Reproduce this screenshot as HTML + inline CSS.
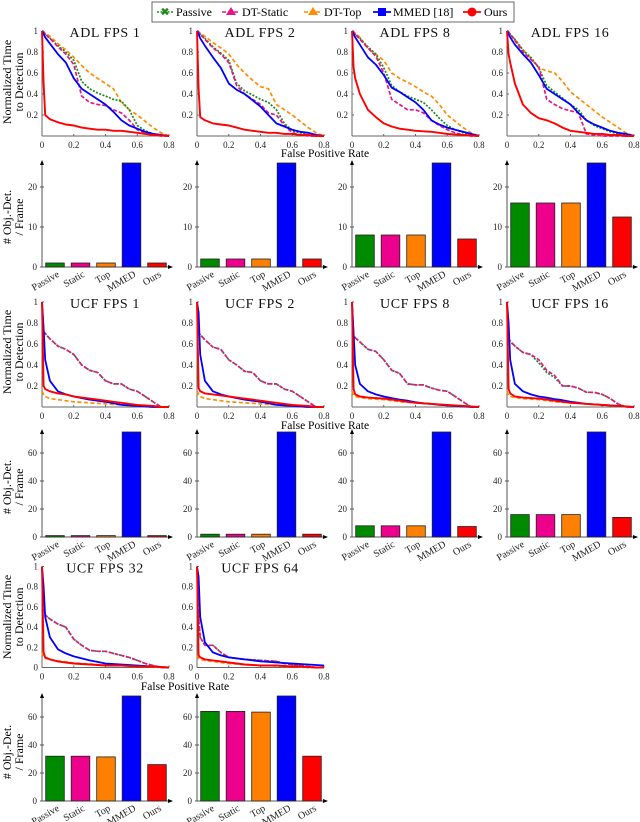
<!DOCTYPE html>
<html><head><meta charset="utf-8">
<style>
body{margin:0;background:#fff;}
svg{display:block;font-family:"Liberation Serif",serif;}
</style></head>
<body>
<svg id="fig" width="640" height="822" viewBox="0 0 640 822" xmlns="http://www.w3.org/2000/svg">
<g id="legend">
<rect x="152" y="2" width="362" height="20" fill="#fff" stroke="#444" stroke-width="0.8"/>
<g><line x1="157" y1="12" x2="173" y2="12" stroke="#1a8a1a" stroke-width="1.6" stroke-dasharray="2,1.5"/><text x="165" y="15.5" font-size="11" fill="#1a8a1a" text-anchor="middle">✖</text><text x="176" y="16" font-size="12">Passive</text></g>
<g><line x1="222" y1="12" x2="240" y2="12" stroke="#e6158a" stroke-width="1.6" stroke-dasharray="4,2"/><polygon points="231,7 236,15 226,15" fill="#e6158a"/><text x="242" y="16" font-size="12">DT-Static</text></g>
<g><line x1="304" y1="12" x2="322" y2="12" stroke="#ff8c00" stroke-width="1.6" stroke-dasharray="4,2"/><polygon points="313,7 318,15 308,15" fill="#ff8c00"/><text x="324" y="16" font-size="12">DT-Top</text></g>
<g><line x1="373" y1="12" x2="391" y2="12" stroke="#0000ff" stroke-width="1.8"/><rect x="378" y="8" width="8" height="8" fill="#0000ff"/><text x="393" y="16" font-size="12">MMED [18]</text></g>
<g><line x1="463" y1="12" x2="481" y2="12" stroke="#ff0000" stroke-width="1.8"/><circle cx="472" cy="12" r="4.5" fill="#ff0000"/><text x="484" y="16" font-size="12">Ours</text></g>
</g>
</svg>
<script>
const fprGrid=[0,.01,.02,.05,.1,.15,.2,.25,.3,.35,.4,.45,.5,.55,.6,.65,.7,.75,.8];
const adl1Passive=[1,.99,.97,.93,.86,.8,.72,.52,.45,.41,.38,.35,.33,.25,.1,.05,.02,.01,0];
const adl1Static=[1,.99,.97,.93,.85,.78,.68,.38,.32,.3,.29,.25,.22,.15,.06,.03,.01,0,0];
const adl1Top=[1,.99,.98,.95,.88,.82,.75,.67,.6,.55,.5,.45,.32,.25,.2,.14,.08,.03,0];
const adl1Mmed=[1,.97,.94,.88,.78,.7,.55,.45,.4,.35,.3,.23,.15,.1,.07,.04,.02,.01,0];
const adl1Ours=[1,.5,.2,.16,.13,.11,.1,.08,.07,.06,.06,.05,.05,.04,.03,.02,.01,.005,0];
const adl2Passive=[1,.99,.97,.93,.85,.79,.72,.5,.43,.39,.35,.32,.25,.12,.05,.03,.01,0,0];
const adl2Static=[1,.99,.97,.92,.84,.78,.7,.48,.4,.35,.3,.22,.2,.1,.03,.01,0,0,0];
const adl2Top=[1,.99,.98,.95,.89,.84,.78,.68,.6,.53,.47,.45,.3,.25,.2,.14,.08,.03,0];
const adl2Mmed=[1,.97,.93,.86,.75,.65,.5,.44,.4,.34,.28,.2,.12,.09,.06,.04,.03,.01,0];
const adl2Ours=[1,.45,.18,.15,.12,.11,.1,.08,.06,.05,.04,.03,.03,.02,.02,.01,.01,0,0];
const adl8Passive=[1,.99,.97,.93,.85,.78,.65,.48,.42,.38,.35,.32,.25,.17,.1,.06,.03,.01,0];
const adl8Static=[1,.99,.97,.92,.84,.76,.6,.35,.3,.25,.25,.22,.15,.1,.06,.03,.01,0,0];
const adl8Top=[1,.99,.98,.94,.83,.78,.72,.6,.55,.51,.47,.42,.38,.3,.2,.14,.08,.03,0];
const adl8Mmed=[1,.97,.94,.87,.75,.68,.58,.46,.42,.37,.32,.25,.15,.11,.08,.06,.04,.02,0];
const adl8Ours=[1,.65,.55,.4,.25,.18,.12,.09,.07,.06,.05,.045,.04,.03,.02,.015,.01,.005,0];
const adl16Passive=[1,.99,.97,.92,.82,.75,.65,.48,.42,.36,.3,.25,.15,.1,.07,.04,.02,.01,0];
const adl16Static=[1,.99,.97,.91,.8,.73,.66,.35,.3,.26,.24,.22,.02,.01,0,0,0,0,0];
const adl16Top=[1,.99,.97,.92,.82,.74,.65,.62,.6,.52,.42,.36,.3,.24,.18,.13,.08,.03,0];
const adl16Mmed=[1,.97,.94,.87,.78,.7,.58,.45,.4,.35,.3,.22,.15,.11,.08,.05,.03,.02,0];
const adl16Ours=[1,.78,.7,.5,.3,.22,.17,.15,.12,.08,.05,.04,.03,.02,.02,.01,.01,0,0];
const ucf1Passive=[1,.72,.7,.65,.58,.55,.5,.4,.35,.33,.25,.22,.22,.17,.15,.1,.05,0,0];
const ucf1Static=[1,.72,.7,.65,.58,.55,.5,.4,.35,.33,.25,.22,.22,.17,.15,.1,.05,0,0];
const ucf1Top=[.15,.12,.1,.08,.07,.06,.05,.045,.04,.035,.03,.025,.02,.015,.01,.005,0,0,0];
const ucf1Mmed=[1,.75,.45,.25,.15,.12,.1,.085,.07,.06,.05,.035,.02,.015,.01,.005,0,0,0];
const ucf1Ours=[1,.2,.17,.15,.13,.12,.1,.09,.08,.07,.06,.05,.04,.03,.02,.015,.01,0,0];
const ucf2Passive=[1,.7,.69,.64,.57,.55,.45,.4,.34,.33,.25,.22,.22,.17,.15,.1,.05,0,0];
const ucf2Static=[1,.7,.69,.64,.57,.55,.45,.4,.34,.33,.25,.22,.22,.17,.15,.1,.05,0,0];
const ucf2Top=[.15,.12,.1,.08,.07,.06,.05,.045,.04,.035,.03,.025,.02,.015,.01,.005,0,0,0];
const ucf2Mmed=[1,.9,.5,.25,.15,.12,.1,.085,.07,.06,.05,.035,.02,.015,.01,.005,0,0,0];
const ucf2Ours=[1,.18,.15,.13,.12,.11,.1,.09,.08,.07,.06,.05,.04,.03,.02,.015,.01,0,0];
const ucf8Passive=[1,.68,.66,.62,.55,.53,.45,.35,.32,.22,.21,.21,.18,.16,.15,.1,.05,0,0];
const ucf8Static=[1,.68,.66,.62,.55,.53,.45,.35,.32,.22,.21,.21,.18,.16,.15,.1,.05,0,0];
const ucf8Top=[.15,.11,.1,.09,.08,.075,.07,.06,.05,.045,.04,.035,.03,.025,.02,.015,.01,.005,0];
const ucf8Mmed=[1,.7,.4,.22,.15,.12,.1,.085,.07,.06,.045,.035,.03,.02,.015,.01,.005,0,0];
const ucf8Ours=[1,.17,.12,.1,.09,.085,.08,.07,.06,.05,.04,.035,.03,.025,.02,.015,.01,.005,0];
const ucf16Passive=[1,.64,.62,.58,.52,.5,.42,.33,.28,.2,.2,.18,.14,.14,.12,.08,.03,0,0];
const ucf16Static=[1,.65,.63,.58,.52,.5,.45,.35,.3,.2,.2,.18,.14,.14,.12,.08,.03,0,0];
const ucf16Top=[.15,.11,.1,.09,.08,.075,.07,.06,.05,.045,.04,.035,.03,.025,.02,.015,.01,.005,0];
const ucf16Mmed=[1,.8,.45,.22,.15,.12,.1,.09,.075,.065,.05,.04,.03,.025,.02,.015,.01,.005,0];
const ucf16Ours=[1,.17,.13,.1,.09,.085,.08,.07,.06,.05,.04,.035,.03,.025,.02,.015,.01,.005,0];
const ucf32Passive=[1,.6,.52,.48,.43,.4,.28,.22,.17,.16,.16,.14,.12,.1,.07,.04,.02,0,0];
const ucf32Static=[1,.6,.52,.48,.43,.4,.28,.22,.17,.16,.16,.14,.12,.1,.07,.04,.02,0,0];
const ucf32Top=[.15,.1,.09,.08,.065,.055,.045,.04,.035,.03,.025,.02,.02,.015,.01,.01,.005,0,0];
const ucf32Mmed=[1,.8,.5,.3,.18,.14,.11,.09,.07,.055,.04,.035,.03,.025,.02,.015,.01,.005,0];
const ucf32Ours=[1,.15,.1,.08,.06,.05,.04,.035,.03,.025,.02,.02,.02,.015,.01,.01,.01,.005,0];
const ucf64Passive=[1,.5,.3,.22,.22,.15,.1,.09,.08,.075,.07,.065,.06,.04,.03,.02,.01,0,0];
const ucf64Static=[1,.5,.3,.22,.22,.15,.1,.09,.08,.075,.07,.065,.06,.04,.03,.02,.01,0,0];
const ucf64Top=[.12,.09,.08,.07,.06,.05,.04,.035,.03,.025,.02,.02,.015,.01,.01,.005,0,0,0];
const ucf64Mmed=[1,.9,.5,.25,.15,.12,.1,.09,.08,.07,.06,.055,.05,.045,.04,.035,.03,.025,.02];
const ucf64Ours=[1,.12,.1,.08,.07,.06,.05,.04,.03,.025,.02,.02,.02,.015,.01,.01,.005,0,0];

const barCategories=["Passive","Static","Top","MMED","Ours"];
const adl1Bars=[1,1,1,26,1];
const adl2Bars=[2,2,2,26,2];
const adl8Bars=[8,8,8,26,7];
const adl16Bars=[16,16,16,26,12.5];
const ucf1Bars=[1,1,1,75,1];
const ucf2Bars=[2,2,2,75,2];
const ucf8Bars=[8,8,8,75,7.5];
const ucf16Bars=[16,16,16,75,14];
const ucf32Bars=[32,32,31.5,75,26];
const ucf64Bars=[64,64,63.5,75,32];
const xTickLabels=["0","0.2","0.4","0.6","0.8"];
const yTickLabels=["0.2","0.4","0.6","0.8","1"];
const yTickLabelsZero=["0","0.2","0.4","0.6","0.8","1"];

const NS="http://www.w3.org/2000/svg";
const svg=document.getElementById('fig');
function mk(tag,attrs,parent){const e=document.createElementNS(NS,tag);for(const k in attrs)e.setAttribute(k,attrs[k]);(parent||svg).appendChild(e);return e;}
function txt(s,attrs,parent){const t=mk('text',attrs,parent);t.textContent=s;return t;}
const styles={passive:{c:"#1a8a1a",w:1.7,d:"2,1.5"},static:{c:"#e6158a",w:1.7,d:"4,2"},top:{c:"#ff8c00",w:1.7,d:"4,2.5"},mmed:{c:"#0000ff",w:1.8,d:""},ours:{c:"#ff0000",w:1.9,d:""}};
const barColors=["#008a00","#ec008c","#ff8000","#0000ff","#ff0000"];

function linePanel(name,title,x0,y0,ys,series,ticks){
  const g=mk('g',{});
  
  
  const sx=v=>x0+v*158.75, sy=v=>y0-v*ys;
  mk('line',{x1:x0,y1:y0,x2:x0+127,y2:y0,stroke:"#666","stroke-width":1},g);
  mk('line',{x1:x0,y1:y0,x2:x0,y2:sy(1),stroke:"#666","stroke-width":1},g);
  xTickLabels.forEach(l=>{const v=parseFloat(l);mk('line',{x1:sx(v),y1:y0,x2:sx(v),y2:y0-2,stroke:"#666"},g);const t=txt(l,{x:sx(v),y:y0+12,"font-size":9,"text-anchor":"middle",fill:"#222"},g);});
  ticks.forEach(l=>{const v=parseFloat(l);mk('line',{x1:x0,y1:sy(v),x2:x0+2,y2:sy(v),stroke:"#666"},g);const t=txt(l,{x:x0-4,y:sy(v)+3,"font-size":9,"text-anchor":"end",fill:"#222"},g);});
  const tt=txt(title,{x:x0+63,y:sy(1)+6,"font-size":14,"font-weight":"normal","letter-spacing":"0.6","text-anchor":"middle",fill:"#111"},g);
  
  
  ["top","passive","static","mmed","ours"].forEach(k=>{
    const vals=series[k],st=styles[k];
    const pts=vals.map((v,i)=>sx(fprGrid[i]).toFixed(1)+","+sy(v).toFixed(1)).join(" ");
    const p=mk('polyline',{points:pts,fill:"none",stroke:st.c,"stroke-width":st.w,"stroke-dasharray":st.d,"stroke-linejoin":"round"},g);
    
    
  });
}
function barPanel(name,x0,y0,scale,maxV,vals,ticks){
  const g=mk('g',{});
  
  
  const sy=v=>y0-v*scale;
  const top=sy(maxV)-1;
  mk('line',{x1:x0,y1:y0,x2:x0+128,y2:y0,stroke:"#555","stroke-width":1},g);
  mk('polygon',{points:`${x0+131},${y0} ${x0+126},${y0-2} ${x0+126},${y0+2}`,fill:"#000"},g);
  mk('line',{x1:x0,y1:y0,x2:x0,y2:top+2,stroke:"#555","stroke-width":1},g);
  mk('polygon',{points:`${x0},${top-2} ${x0-2},${top+3} ${x0+2},${top+3}`,fill:"#000"},g);
  ticks.forEach(v=>{mk('line',{x1:x0-2,y1:sy(v),x2:x0+2,y2:sy(v),stroke:"#555"},g);const t=txt(String(v),{x:x0-5,y:sy(v)+3,"font-size":9,"text-anchor":"end",fill:"#222"},g);});
  vals.forEach((v,i)=>{
    const cx=x0+13+i*25.5;
    const r=mk('rect',{x:cx-9.3,y:sy(v),width:18.6,height:v*scale,fill:barColors[i],stroke:"#222","stroke-width":0.8},g);
    
    
    const t=txt(barCategories[i],{x:cx+5,y:y0+9,"font-size":10,"text-anchor":"end",transform:`rotate(-30 ${cx+5} ${y0+9})`,fill:"#222"},g);
    
    
  });
}
function ylab(l1,l2,cy,nm){
  const g=mk('g',{});
  
  
  txt(l1,{x:0,y:0,"font-size":12,"text-anchor":"middle",transform:`translate(11 ${cy}) rotate(-90)`},g);
  txt(l2,{x:0,y:0,"font-size":12,"text-anchor":"middle",transform:`translate(23 ${cy}) rotate(-90)`},g);
}
function xlab(cx,y){const t=txt("False Positive Rate",{x:cx,y:y,"font-size":11.5,"text-anchor":"middle"});}

const X0=[42,197,352,507];
linePanel('adl-fps1-curves','ADL FPS 1',X0[0],136,105,{passive:adl1Passive,static:adl1Static,top:adl1Top,mmed:adl1Mmed,ours:adl1Ours},yTickLabels);
linePanel('adl-fps2-curves','ADL FPS 2',X0[1],136,105,{passive:adl2Passive,static:adl2Static,top:adl2Top,mmed:adl2Mmed,ours:adl2Ours},yTickLabels);
linePanel('adl-fps8-curves','ADL FPS 8',X0[2],136,105,{passive:adl8Passive,static:adl8Static,top:adl8Top,mmed:adl8Mmed,ours:adl8Ours},yTickLabels);
linePanel('adl-fps16-curves','ADL FPS 16',X0[3],136,105,{passive:adl16Passive,static:adl16Static,top:adl16Top,mmed:adl16Mmed,ours:adl16Ours},yTickLabels);
linePanel('ucf-fps1-curves','UCF FPS 1',X0[0],407,105,{passive:ucf1Passive,static:ucf1Static,top:ucf1Top,mmed:ucf1Mmed,ours:ucf1Ours},yTickLabels);
linePanel('ucf-fps2-curves','UCF FPS 2',X0[1],407,105,{passive:ucf2Passive,static:ucf2Static,top:ucf2Top,mmed:ucf2Mmed,ours:ucf2Ours},yTickLabels);
linePanel('ucf-fps8-curves','UCF FPS 8',X0[2],407,105,{passive:ucf8Passive,static:ucf8Static,top:ucf8Top,mmed:ucf8Mmed,ours:ucf8Ours},yTickLabels);
linePanel('ucf-fps16-curves','UCF FPS 16',X0[3],407,105,{passive:ucf16Passive,static:ucf16Static,top:ucf16Top,mmed:ucf16Mmed,ours:ucf16Ours},yTickLabels);
linePanel('ucf-fps32-curves','UCF FPS 32',X0[0],667.5,101,{passive:ucf32Passive,static:ucf32Static,top:ucf32Top,mmed:ucf32Mmed,ours:ucf32Ours},yTickLabelsZero);
linePanel('ucf-fps64-curves','UCF FPS 64',X0[1],667.5,101,{passive:ucf64Passive,static:ucf64Static,top:ucf64Top,mmed:ucf64Mmed,ours:ucf64Ours},yTickLabelsZero);

barPanel('adl-fps1-bars',X0[0],267,4,26,adl1Bars,[0,10,20]);
barPanel('adl-fps2-bars',X0[1],267,4,26,adl2Bars,[0,10,20]);
barPanel('adl-fps8-bars',X0[2],267,4,26,adl8Bars,[0,10,20]);
barPanel('adl-fps16-bars',X0[3],267,4,26,adl16Bars,[0,10,20]);
barPanel('ucf-fps1-bars',X0[0],537,1.4,75,ucf1Bars,[0,20,40,60]);
barPanel('ucf-fps2-bars',X0[1],537,1.4,75,ucf2Bars,[0,20,40,60]);
barPanel('ucf-fps8-bars',X0[2],537,1.4,75,ucf8Bars,[0,20,40,60]);
barPanel('ucf-fps16-bars',X0[3],537,1.4,75,ucf16Bars,[0,20,40,60]);
barPanel('ucf-fps32-bars',X0[0],801,1.4,75,ucf32Bars,[0,20,40,60]);
barPanel('ucf-fps64-bars',X0[1],801,1.4,75,ucf64Bars,[0,20,40,60]);

ylab("Normalized Time","to Detection",82,'y-axis-title-adl-curves');
ylab("# Obj.-Det.","/ Frame",217,'y-axis-title-adl-bars');
ylab("Normalized Time","to Detection",352,'y-axis-title-ucf-curves');
ylab("# Obj.-Det.","/ Frame",487,'y-axis-title-ucf-bars');
ylab("Normalized Time","to Detection",617,'y-axis-title-ucf2-curves');
ylab("# Obj.-Det.","/ Frame",752,'y-axis-title-ucf2-bars');
xlab(325,157);
xlab(325,429);
xlab(185,690);
svg.appendChild(document.getElementById('legend'));
</script>
</body></html>
